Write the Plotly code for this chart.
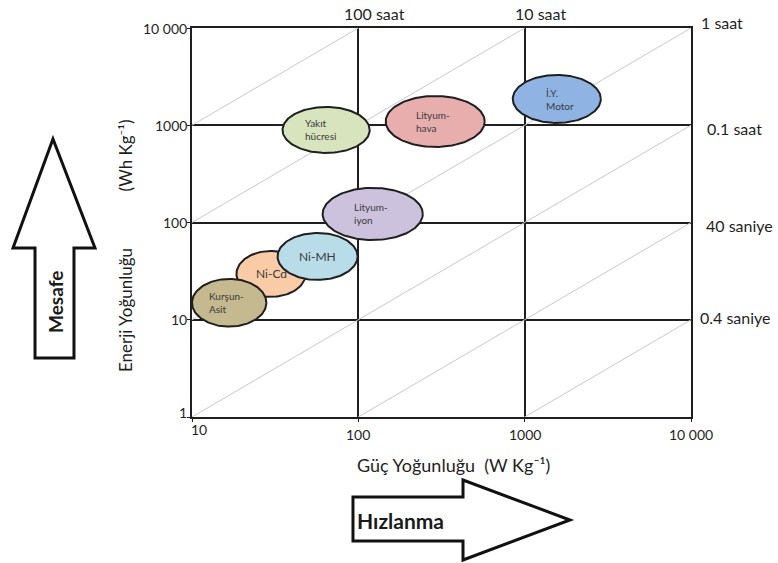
import numpy as np
import plotly.graph_objects as go

# Ragone diagram: specific power (W/kg) vs specific energy (Wh/kg)
technologies = ["Ni-Cd", "Kurşun-Asit", "Ni-MH", "Lityum-iyon", "Yakıt hücresi", "Lityum-hava", "İ.Y. Motor"]
label_texts = ["Ni-Cd", "Kurşun-<br>Asit", "Ni-MH", "Lityum-<br>iyon", "Yakıt<br>hücresi", "Lityum-<br>hava", "İ.Y.<br>Motor"]
power_min = [18.5, 10, 32.7, 61, 35, 146, 848]
power_max = [48.2, 28, 99, 244, 117, 575, 2870]
energy_min = [17.2, 8.5, 25.7, 66, 519, 598, 1057]
energy_max = [51, 26.3, 78, 227, 1542, 2000, 3290]
fill_colors = ["#f9cba6", "#c5b98f", "#b8dde9", "#cdc2dd", "#d8e4bd", "#e8aeae", "#8fb4e3"]

# constant discharge-time lines, E = P * t (t in hours)
time_hours = [100, 10, 1, 0.1, 0.01, 0.001]
top_time_labels = ["100 saat", "10 saat"]
top_time_power = [100, 1000]
right_time_labels = ["1 saat", "0.1 saat", "40 saniye", "0.4 saniye"]
right_time_energy = [10000, 1000, 100, 10]

x_tick_vals = [10, 100, 1000, 10000]
x_tick_text = ["10", "100", "1000", "10 000"]
y_tick_vals = [1, 10, 100, 1000, 10000]
y_tick_text = ["1", "10", "100", "1000", "10 000"]

FONT = "Lato, 'Open Sans', sans-serif"
INK = "#1f1f1f"
W, H = 778, 563
L, R, T, B = 192, 87, 28, 146


def px_to_paper(px, py):
    return (px - L) / (W - L - R), (H - B - py) / (H - T - B)


fig = go.Figure()

# diagonal time lines
for t in time_hours:
    p = np.array([10.0, 10000.0])
    fig.add_trace(go.Scatter(x=p, y=p * t, mode="lines",
                             line=dict(color="#c9c9c9", width=1),
                             hoverinfo="skip", showlegend=False))

# technology regions as ellipses in log space
theta = np.linspace(0, 2 * np.pi, 160)
label_offsets = {
    "Ni-Cd": (0, 0, "center"), "Kurşun-Asit": (-22, 0, "left"), "Ni-MH": (0, 0, "center"),
    "Lityum-iyon": (-21, 0, "left"), "Yakıt hücresi": (-23, 0, "left"),
    "Lityum-hava": (-21, 0, "left"), "İ.Y. Motor": (-13, -1, "left"),
}
for name, lab, p0, p1, e0, e1, col in zip(technologies, label_texts, power_min, power_max,
                                          energy_min, energy_max, fill_colors):
    cx = (np.log10(p0) + np.log10(p1)) / 2
    cy = (np.log10(e0) + np.log10(e1)) / 2
    ax = (np.log10(p1) - np.log10(p0)) / 2
    ay = (np.log10(e1) - np.log10(e0)) / 2
    fig.add_trace(go.Scatter(x=10 ** (cx + ax * np.cos(theta)), y=10 ** (cy + ay * np.sin(theta)),
                             mode="lines", fill="toself", fillcolor=col,
                             line=dict(color=INK, width=2), name=name,
                             hoverinfo="name", showlegend=False))
    dx, dy, align = label_offsets[name]
    big = name in ("Ni-MH", "Ni-Cd")
    fig.add_annotation(x=cx, y=cy, xref="x", yref="y", text=lab, showarrow=False,
                       xanchor="left" if align == "left" else "center", align=align,
                       xshift=dx, yshift=dy,
                       font=dict(family=FONT, size=12 if big else 10, color="#3a3a3a"))

# tick labels
for v, s in zip(x_tick_vals, x_tick_text):
    first = v == x_tick_vals[0]
    fig.add_annotation(x=np.log10(v), y=0, xref="x", yref="paper", text=s, showarrow=False,
                       xanchor="center", yanchor="top", xshift=7 if first else 0,
                       yshift=-2 if first else -7,
                       font=dict(family=FONT, size=14, color=INK))
for v, s in zip(y_tick_vals, y_tick_text):
    first = v == y_tick_vals[0]
    fig.add_annotation(x=0, y=np.log10(v), xref="paper", yref="y", text=s, showarrow=False,
                       xanchor="right", yanchor="middle", xshift=-3,
                       yshift=5 if first else 0,
                       font=dict(family=FONT, size=14, color=INK))

# time labels
for v, s in zip(top_time_power, top_time_labels):
    fig.add_annotation(x=np.log10(v), y=1, xref="x", yref="paper", text=s, showarrow=False,
                       xanchor="center", yanchor="middle", xshift=16, yshift=15,
                       font=dict(family=FONT, size=16, color=INK))
right_shift = {10000: 6, 1000: -3, 100: -3, 10: 2}
right_dx = {10000: 8, 1000: 14, 100: 13, 10: 7}
for v, s in zip(right_time_energy, right_time_labels):
    fig.add_annotation(x=1, y=np.log10(v), xref="paper", yref="y", text=s, showarrow=False,
                       xanchor="left", yanchor="middle", xshift=right_dx[v], yshift=right_shift[v],
                       font=dict(family=FONT, size=16, color=INK))

# axis titles
xa, ya = px_to_paper(453, 465)
fig.add_annotation(x=xa, y=ya, xref="paper", yref="paper",
                   text="Güç Yoğunluğu  (W Kg⁻¹)", showarrow=False,
                   xanchor="center", yanchor="middle",
                   font=dict(family=FONT, size=18, color=INK))
xa, ya = px_to_paper(125, 246)
fig.add_annotation(x=xa, y=ya, xref="paper", yref="paper",
                   text="Enerji Yoğunluğu" + "\u00a0" * 13 + "(Wh Kg⁻¹)",
                   showarrow=False, textangle=-90, xanchor="center", yanchor="middle",
                   font=dict(family=FONT, size=17, color=INK))

# direction arrows
def arrow_path(points):
    pts = [px_to_paper(x, y) for x, y in points]
    return "M " + " L ".join(f"{x:.4f},{y:.4f}" for x, y in pts) + " Z"

up_arrow = [(35, 358), (35, 248), (13, 248), (53, 139), (95, 248), (74, 248), (74, 358)]
right_arrow = [(353, 497), (463, 497), (463, 480), (570, 520), (463, 560), (463, 541), (353, 541)]
for pts in (up_arrow, right_arrow):
    fig.add_shape(type="path", path=arrow_path(pts), xref="paper", yref="paper",
                  line=dict(color="#111111", width=3), fillcolor="white", layer="above")

mx, my = px_to_paper(55, 302)
fig.add_annotation(x=mx, y=my, xref="paper", yref="paper", text="Mesafe",
                   showarrow=False, textangle=-90, xanchor="center", yanchor="middle",
                   font=dict(family=FONT, size=19, color="#1a1a1a", weight="bold"))
hx, hy = px_to_paper(355, 520)
fig.add_annotation(x=hx, y=hy, xref="paper", yref="paper", text="Hızlanma",
                   showarrow=False, xanchor="left", yanchor="middle",
                   font=dict(family=FONT, size=21, color="#1a1a1a", weight="bold"))

axis_style = dict(type="log", showgrid=True, gridcolor=INK, gridwidth=2,
                  showline=True, linecolor=INK, linewidth=2, mirror=True,
                  zeroline=False, showticklabels=False, ticks="outside",
                  ticklen=3, tickcolor=INK, fixedrange=True)
fig.update_xaxes(range=[1, 4], tickvals=x_tick_vals, **axis_style)
fig.update_yaxes(range=[0, 4], tickvals=y_tick_vals, **axis_style)

fig.update_layout(width=W, height=H, margin=dict(l=L, r=R, t=T, b=B),
                  paper_bgcolor="white", plot_bgcolor="white",
                  font=dict(family=FONT, color=INK), showlegend=False)

fig.write_html("out.html")
